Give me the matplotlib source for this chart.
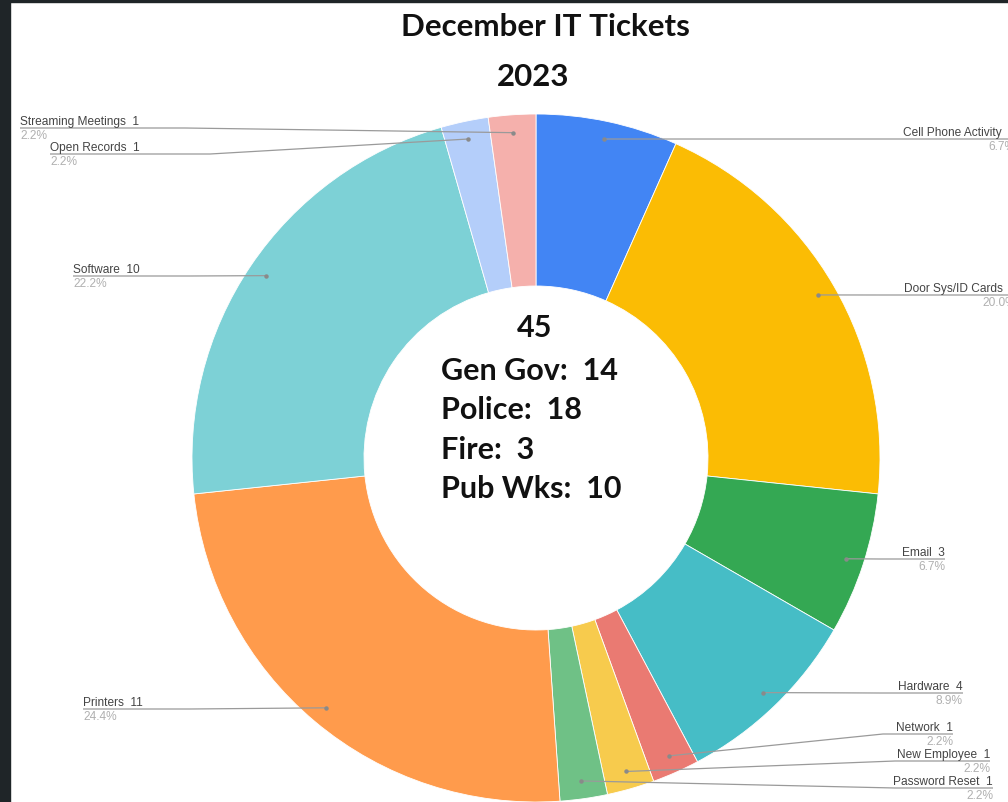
import numpy as np
import matplotlib
matplotlib.use("Agg")
import matplotlib.pyplot as plt
from matplotlib.patches import Rectangle

# ticket counts by category (clockwise from top)
categories = ['Cell Phone Activity', 'Door Sys/ID Cards', 'Email', 'Hardware', 'Network',
              'New Employee', 'Password Reset', 'Printers', 'Software', 'Open Records',
              'Streaming Meetings']
tickets = [3, 9, 3, 4, 1, 1, 1, 11, 10, 1, 1]
colors = ['#4285F4', '#FBBC04', '#34A853', '#46BDC6', '#EA7A72', '#F7CB4D',
          '#6FC186', '#FF9B4C', '#7DD1D6', '#B4CEFA', '#F5B0AC']

departments = ['Gen Gov', 'Police', 'Fire', 'Pub Wks']
dept_tickets = [14, 18, 3, 10]

# label layout in pixel coords: (side, line y, text edge x, elbow x)
label_layout = [
    ('R', 140, 1015, 880),
    ('R', 296, 1016, 880),
    ('R', 560, 945, 880),
    ('R', 694, 963, 880),
    ('R', 735, 953, 883),
    ('R', 762, 990, 895),
    ('R', 789, 993, 895),
    ('L', 710, 83, 190),
    ('L', 277, 73, 190),
    ('L', 155, 50, 210),
    ('L', 129, 20, 185),
]

W, H = 1008, 803
cx, cy, R = 536, 459, 344

fig = plt.figure(figsize=(W / 100, H / 100), dpi=100)
ax = fig.add_axes([0, 0, 1, 1])

# y axis is inverted so startangle -90 / counterclock=True draws clockwise from top
wedges, _ = ax.pie(tickets, colors=colors, radius=R, center=(cx, cy),
                   startangle=-90, counterclock=True,
                   wedgeprops=dict(width=R / 2, edgecolor='white', linewidth=0.6))
ax.set_xlim(0, W)
ax.set_ylim(H, 0)
ax.set_aspect('auto')
ax.axis('off')

total = sum(tickets)
for w, name, n, (side, ly, ex, elx) in zip(wedges, categories, tickets, label_layout):
    mid = np.deg2rad((w.theta1 + w.theta2) / 2)
    dx = cx + 0.948 * R * np.cos(mid)
    dy = cy + 0.948 * R * np.sin(mid)
    ax.plot([dx, elx, ex], [dy, ly, ly], color='#9a9a9a', lw=0.9, solid_capstyle='butt')
    ax.plot(dx, dy, 'o', ms=2.2, color='#8a8a8a')
    ha = 'right' if side == 'R' else 'left'
    ax.text(ex, ly - 1, f'{name}  {n}', ha=ha, va='bottom', fontsize=8.6,
            family='Liberation Sans', color='#444444')
    ax.text(ex, ly + 1, f'{n / total * 100:.1f}%', ha=ha, va='top', fontsize=8.6,
            family='Liberation Sans', color='#b0b0b0')

# title
ax.text(545, 27, 'December IT Tickets', ha='center', va='center', fontsize=22.5,
        fontweight='bold', family='Lato', color='#111111')
ax.text(533, 77, '2023', ha='center', va='center', fontsize=22.5,
        fontweight='bold', family='Lato', color='#111111')

# center summary
ax.text(535, 328, str(total), ha='center', va='center', fontsize=22,
        fontweight='bold', family='Lato', color='#111111')
for i, (d, n) in enumerate(zip(departments, dept_tickets)):
    ax.text(441, 371 + i * 39.5, f'{d}:  {n}', ha='left', va='center', fontsize=22,
            fontweight='bold', family='Lato', color='#111111')

# dark screenshot border
fig.add_artist(Rectangle((0, 0), 10 / W, 1, transform=fig.transFigure,
                         color='#1f2528', zorder=10))
fig.add_artist(Rectangle((0, 1 - 3 / H), 1, 3 / H, transform=fig.transFigure,
                         color='#1f2528', zorder=10))

fig.savefig('out.png', dpi=100)
